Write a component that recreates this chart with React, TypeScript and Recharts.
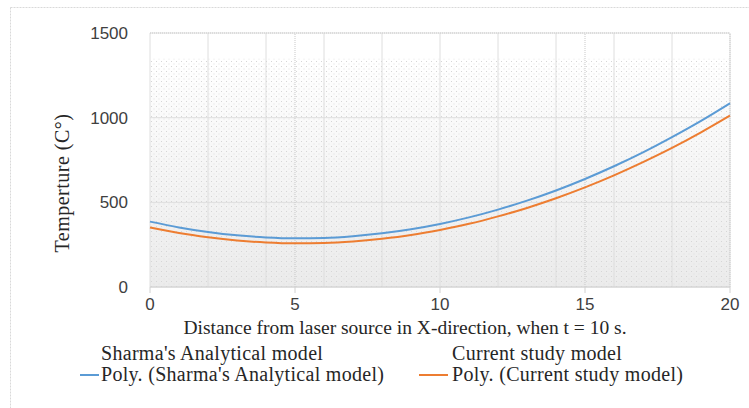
import {
  LineChart,
  Line,
  XAxis,
  YAxis,
  CartesianGrid,
  Legend,
  ReferenceArea,
  ReferenceLine,
} from "recharts";

// ─── Data
const distance = [0, 1, 2, 3, 4, 5, 6, 7, 8, 9, 10, 11, 12, 13, 14, 15, 16, 17, 18, 19, 20];
const sharmaPoly = [386, 352, 325, 305, 293, 288, 290, 300, 317, 341, 372, 411, 457, 510, 570, 638, 713, 795, 885, 981, 1085];
const currentPoly = [352, 319, 294, 275, 263, 258, 260, 269, 285, 307, 337, 373, 417, 467, 524, 588, 659, 737, 821, 913, 1012];
const xTicks = [0, 5, 10, 15, 20];
const yTicks = [0, 500, 1000, 1500];
const gridX = [0, 2, 4, 6, 8, 10, 12, 14, 16, 18, 20];
const legendRows = [
  ["Sharma's Analytical model", "Current study model"],
  ["Poly. (Sharma's Analytical model)", "Poly. (Current study model)"],
];

const BLUE = "#5b9bd5";
const ORANGE = "#ed7d31";
const SERIF = "'Liberation Serif', 'Times New Roman', serif";
const SANS = "'Liberation Sans', Arial, sans-serif";

const data = distance.map((d, i) => ({
  x: d,
  sharma: sharmaPoly[i],
  current: currentPoly[i],
}));

// ─── Legend (two columns, two rows)
const ChartLegend = () => (
  <div style={{ position: "relative", height: 42, fontFamily: SERIF, fontSize: 20, letterSpacing: 0.3, color: "#262626", lineHeight: "21px" }}>
    {legendRows.map((row, r) => (
      <div key={r}>
        <div style={{ position: "absolute", left: 72, top: r * 21, display: "flex", alignItems: "center", whiteSpace: "nowrap" }}>
          <span style={{ display: "inline-block", width: 19, height: 0, borderTop: r === 1 ? `2px solid ${BLUE}` : "2px solid transparent", marginRight: 2 }} />
          {row[0]}
        </div>
        <div style={{ position: "absolute", left: 411, top: r * 21, display: "flex", alignItems: "center", whiteSpace: "nowrap" }}>
          <span style={{ display: "inline-block", width: 29, height: 0, borderTop: r === 1 ? `2px solid ${ORANGE}` : "2px solid transparent", marginRight: 4 }} />
          {row[1]}
        </div>
      </div>
    ))}
  </div>
);

const YLabel = () => (
  <text
    x={62}
    y={183}
    transform="rotate(-90 62 183)"
    textAnchor="middle"
    dominantBaseline="central"
    fontFamily={SERIF}
    fontSize={20}
    letterSpacing={0.5}
    fill="#262626"
  >
    Temperture (C°)
  </text>
);

export default function App() {
  return (
    <div style={{ position: "absolute", left: 0, top: 0, width: 749, height: 408, background: "#fff" }}>
      <svg width={749} height={408} style={{ position: "absolute", left: 0, top: 0 }}>
        <rect x={10.5} y={7.5} width={760} height={420} fill="#fff" stroke="#d9d9d9" strokeDasharray="2 1" />
      </svg>
      <div style={{ position: "absolute", left: 0, top: 0 }}>
        <LineChart width={749} height={408} data={data} margin={{ top: 33, right: 19, bottom: 49, left: 0 }}>
          <defs>
            <linearGradient id="plotBg" x1="0" y1="0" x2="0" y2="1">
              <stop offset="0%" stopColor="#ffffff" />
              <stop offset="12%" stopColor="#ffffff" />
              <stop offset="100%" stopColor="#ebebeb" />
            </linearGradient>
            <pattern id="dots" width="5" height="5" patternUnits="userSpaceOnUse">
              <rect x="1" y="1" width="1" height="1" fill="#d6d6d6" />
              <rect x="3.5" y="3.5" width="1" height="1" fill="#e0e0e0" />
            </pattern>
          </defs>
          <CartesianGrid
            fill="url(#plotBg)"
            fillOpacity={1}
            stroke="#dedede"
            verticalValues={gridX}
            horizontalValues={yTicks}
          />
          <ReferenceArea x1={0} x2={20} y1={0} y2={1350} fill="url(#dots)" fillOpacity={1} stroke="none" ifOverflow="hidden" />
          <ReferenceLine x={5} stroke="#c9c9c9" strokeDasharray="1 1" />
          <ReferenceLine x={15} stroke="#c9c9c9" strokeDasharray="1 1" />
          <ReferenceLine x={20} stroke="#c9c9c9" strokeDasharray="1 1" />
          <ReferenceLine y={1500} stroke="#c9c9c9" strokeDasharray="1 1" />
          <XAxis
            dataKey="x"
            type="number"
            domain={[0, 20]}
            ticks={xTicks}
            interval={0}
            height={30}
            tick={{ fontSize: 17, fill: "#404040", fontFamily: SANS }}
            tickLine={{ stroke: "#d0d0d0" }}
            tickSize={6}
            tickMargin={5}
            axisLine={{ stroke: "#d0d0d0" }}
            label={{
              value: "Distance from laser source in X-direction, when t = 10 s.",
              position: "bottom",
              offset: 3,
              dx: -35,
              fontFamily: SERIF,
              fontSize: 19.5,
              fill: "#262626",
            }}
          />
          <YAxis
            type="number"
            domain={[0, 1500]}
            ticks={yTicks}
            interval={0}
            width={150}
            tick={{ fontSize: 17, fill: "#404040", fontFamily: SANS }}
            tickLine={false}
            axisLine={false}
            tickMargin={16}
            label={<YLabel />}
          />
          <Legend
            content={() => <ChartLegend />}
            wrapperStyle={{ position: "absolute", left: 8, top: 343, width: 741, height: 42 }}
          />
          <Line
            type="monotone"
            dataKey="sharma"
            stroke={BLUE}
            strokeWidth={2}
            dot={false}
            isAnimationActive={false}
          />
          <Line
            type="monotone"
            dataKey="current"
            stroke={ORANGE}
            strokeWidth={2}
            dot={false}
            isAnimationActive={false}
          />
        </LineChart>
      </div>
    </div>
  );
}
